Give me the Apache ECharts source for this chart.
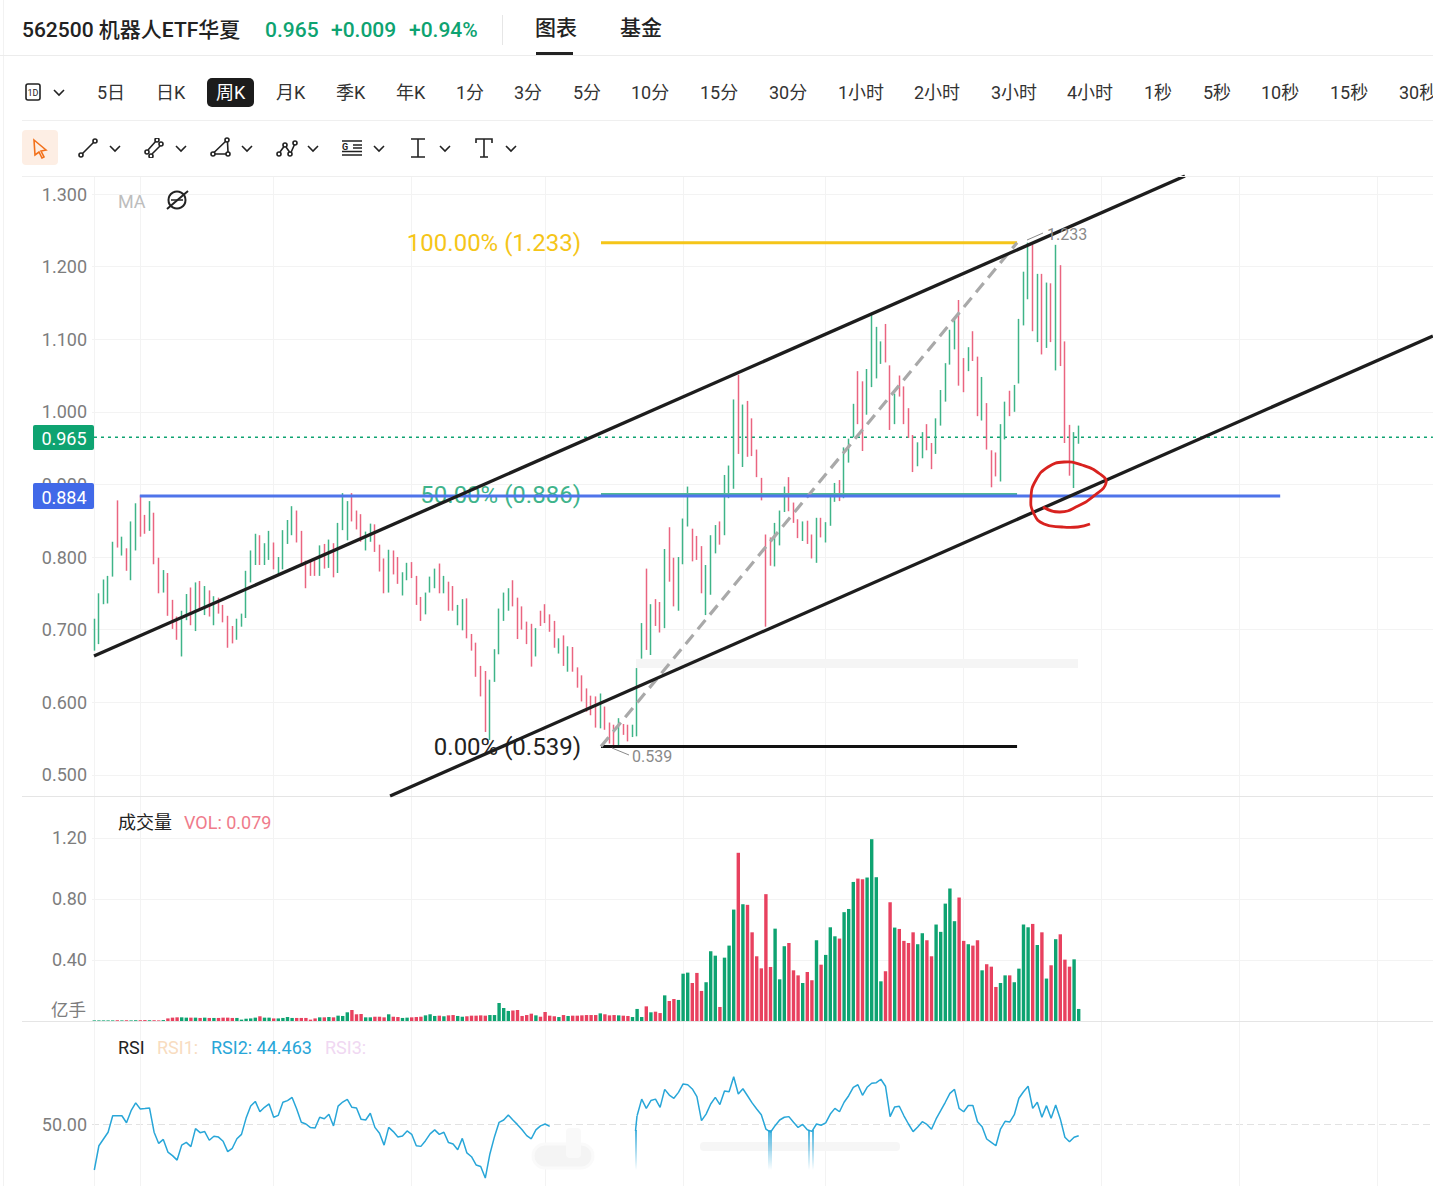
<!DOCTYPE html>
<html><head><meta charset="utf-8">
<script src="https://cdn.jsdelivr.net/npm/echarts@6/dist/echarts.min.js"></script>
<style>
html,body{margin:0;padding:0;background:#fff;overflow:hidden;width:1433px;height:1186px;font-family:Roboto,"Noto Sans CJK SC",sans-serif;color:#222}
#wrap{position:absolute;left:0;top:0;width:1433px;height:1186px;overflow:hidden}
#chart{position:absolute;left:0;top:0;width:1445px;height:1186px}
.t{position:absolute;white-space:nowrap;line-height:1;transform:translateY(-50%)}
svg.i{position:absolute;fill:none;stroke:#222;stroke-width:1.6}
</style></head><body>
<div id="wrap"><div id="chart"></div><div id="ui"></div></div>
<script>
// ---------- data ----------
const directions = ["GGGGGRGRGG","RRGRRGRRRG","GRGRGRGRRR","RGGGGGRGGR","GGGGRRRRRG","RGRGGGRRRG","GRRRGRRGGR","RRGGGRGRRG","GRRRRRGGGG","GRRRRRGRRR","RGRGRRRRRR","GRRRGRRGGG","RGRRGRRGGG","RRRGGGRGGG","RGRRRRRRGG","GRRRGRRGRG","GGRGGGRRGG","GGRRGRRRRG","GRRGGGGGRR","GRRGRRRGGR","GGGGRGRGRG","RRRGG"].join("").split("");
const highs = [
.715,.750,.769,.774,.821,.878,.828,.812,.849,.874,
.885,.858,.877,.861,.799,.782,.778,.741,.718,.726,
.749,.758,.765,.767,.760,.754,.746,.744,.734,.719,
.705,.715,.722,.781,.809,.832,.830,.819,.836,.820,
.800,.837,.851,.870,.864,.836,.795,.795,.795,.816,
.818,.824,.819,.847,.888,.877,.888,.864,.859,.835,
.846,.845,.817,.798,.810,.809,.800,.779,.792,.793,
.774,.745,.751,.773,.784,.791,.774,.766,.760,.734,
.742,.743,.694,.682,.650,.643,.631,.673,.729,.751,
.757,.768,.744,.732,.711,.708,.702,.726,.735,.721,
.712,.688,.692,.677,.676,.648,.637,.619,.609,.608,
.612,.594,.572,.569,.578,.570,.569,.569,.647,.709,
.784,.735,.742,.738,.811,.841,.799,.800,.853,.897,
.839,.829,.815,.789,.830,.844,.849,.913,.926,1.017,
1.051,1.010,1.015,.991,.948,.909,.831,.827,.847,.864,
.897,.910,.875,.852,.849,.850,.831,.854,.854,.848,
.883,.902,.906,.951,.963,1.011,1.056,1.042,1.059,1.134,
1.117,1.097,1.121,1.064,1.025,1.050,1.035,1.005,.968,.958,
.972,.983,.957,.991,1.030,1.067,1.113,1.127,1.154,1.074,
1.089,1.111,1.076,1.048,1.012,.947,.944,.983,1.014,1.029,
1.037,1.128,1.193,1.233,1.230,1.190,1.190,1.178,1.177,1.230,
1.202,1.097,.982,.972,.981];
const lows = [
.671,.680,.735,.736,.773,.813,.802,.781,.768,.809,
.828,.832,.836,.790,.750,.751,.719,.701,.686,.663,
.713,.706,.698,.727,.720,.718,.706,.722,.710,.675,
.681,.686,.704,.716,.765,.789,.789,.789,.796,.783,
.776,.783,.818,.830,.820,.790,.757,.774,.774,.774,
.784,.785,.772,.778,.837,.823,.849,.838,.821,.809,
.821,.807,.780,.750,.751,.776,.763,.747,.768,.771,
.734,.712,.721,.751,.757,.750,.750,.726,.726,.706,
.699,.688,.671,.635,.608,.559,.548,.628,.666,.712,
.726,.732,.687,.700,.680,.649,.663,.705,.709,.697,
.675,.667,.650,.642,.642,.620,.601,.587,.582,.565,
.564,.562,.543,.539,.539,.555,.546,.552,.553,.660,
.672,.665,.705,.696,.702,.766,.732,.726,.790,.842,
.794,.796,.750,.720,.748,.805,.817,.830,.881,.894,
.942,.924,.938,.939,.910,.878,.704,.788,.787,.816,
.862,.863,.847,.826,.822,.818,.798,.792,.827,.820,
.843,.876,.877,.881,.930,.965,.983,.946,.996,1.034,
1.046,1.066,1.068,.975,.983,1.021,.983,.964,.917,.925,
.936,.947,.921,.942,.981,1.014,1.065,1.086,1.036,1.027,
1.056,1.070,.994,.988,.948,.896,.911,.904,.962,.994,
1.000,1.039,1.119,1.155,1.111,1.096,1.079,1.088,1.096,1.057,
1.063,.957,.912,.895,.956];
const volumes = [
.004,.004,.004,.004,.004,.005,.004,.005,.004,.005,
.005,.006,.005,.005,.004,.006,.017,.022,.024,.024,
.022,.022,.022,.020,.022,.020,.020,.020,.022,.022,
.020,.020,.009,.015,.017,.022,.031,.022,.022,.017,
.017,.020,.026,.020,.020,.020,.020,.009,.017,.024,
.024,.026,.024,.035,.033,.057,.072,.044,.046,.024,
.024,.028,.028,.024,.044,.028,.026,.020,.022,.024,
.026,.028,.037,.044,.033,.035,.031,.037,.039,.033,
.028,.031,.035,.035,.037,.035,.039,.039,.118,.085,
.066,.068,.072,.033,.039,.048,.037,.028,.059,.035,
.031,.026,.039,.033,.035,.035,.037,.039,.039,.039,
.050,.044,.037,.039,.037,.035,.033,.026,.079,.026,
.096,.057,.061,.052,.168,.131,.144,.138,.310,.317,
.249,.315,.197,.254,.457,.428,.092,.415,.494,.730,
1.102,.765,.761,.581,.424,.345,.831,.354,.605,.273,
.490,.511,.332,.299,.249,.321,.267,.529,.369,.433,
.614,.555,.540,.713,.734,.911,.933,.929,.940,1.191,
.942,.260,.326,.778,.612,.603,.525,.511,.581,.503,
.575,.529,.424,.632,.584,.769,.868,.654,.809,.525,
.503,.494,.529,.332,.372,.356,.223,.249,.299,.299,
.254,.343,.632,.614,.636,.498,.581,.278,.365,.536,
.568,.402,.356,.404,.079];
const rsi2 = [
28.2,39.7,42.9,46.1,53.9,53.9,53.9,50.6,56.3,60.0,
57.1,57.3,57.6,46.1,40.8,42.7,36.7,35.0,32.9,40.0,
41.3,39.3,47.8,45.9,46.4,42.3,44.2,43.8,41.8,36.9,
38.5,43.0,45.1,52.8,58.5,60.7,55.8,57.9,59.5,53.2,
54.1,60.3,61.1,62.6,57.1,50.8,50.0,48.3,48.1,53.2,
52.5,54.6,49.1,58.5,60.4,61.7,57.9,57.6,52.2,51.9,
55.1,48.4,45.6,40.0,48.4,46.4,43.8,44.3,46.7,45.1,
39.7,39.4,42.1,45.3,47.2,45.1,46.1,41.2,40.5,37.8,
43.2,36.3,34.5,30.6,29.9,24.4,35.8,44.0,50.8,51.9,
54.3,51.9,49.7,47.3,44.5,43.0,47.2,49.1,50.0,48.9,
null,null,null,null,null,null,null,null,null,null,
null,null,null,null,null,null,null,null,53.9,61.8,
57.4,61.1,61.8,57.9,66.4,63.7,62.2,65.0,69.0,68.6,
66.6,63.0,51.6,54.7,59.5,62.6,59.2,65.6,65.3,72.4,
64.2,66.7,63.4,60.0,57.1,54.4,47.6,46.1,49.2,51.9,
53.2,53.5,50.8,48.4,49.8,47.3,46.5,50.0,49.4,50.5,
54.7,57.4,55.8,60.3,63.4,67.4,68.6,63.6,67.4,69.3,
69.6,71.2,67.9,53.5,58.1,58.4,53.9,50.0,46.4,48.6,
51.1,49.8,47.5,52.4,56.3,60.3,64.5,66.4,57.4,55.8,
58.8,58.8,51.1,48.7,42.9,41.3,39.7,47.6,51.3,50.9,
54.4,62.2,65.3,67.9,57.4,60.3,53.2,58.7,52.7,59.0,
52.4,43.7,41.6,43.7,44.463];
const priceTicks = [0.5,0.6,0.7,0.8,0.9,1.0,1.1,1.2,1.3];
const volumeTicks = [0.4,0.8,1.2];
const rsiTicks = [50];
const gridBars = [0,10,39,69,98,128,159,189,219,249,279];
// drawings: [bar position, price] end points
const upperChannel = [[0.43,0.6636],[237.6,1.3248]];
const lowerChannel = [[64.8,0.4708],[291.5,1.1044]];
const supportLine  = [[10.4,0.884],[258.3,0.884]];
const fibHigh = [[110.65,1.233],[201.1,1.233]];
const fibMid  = [[110.65,0.886],[201.1,0.886]];
const fibLow  = [[110.65,0.539],[201.1,0.539]];
const fibDiag = [[110.65,0.539],[201.1,1.233]];
const lastPriceLine = [[0.43,0.965],[291.5,0.965]];
const slots = 292;
const categories = Array.from({length:slots},(_,i)=>String(i));
// ---------- page chrome ----------
const GREEN='#0ea371',RED='#e8415f',BLUE='#4169e8',FONT='Roboto,"Noto Sans CJK SC",sans-serif';
const ui=document.getElementById('ui');
function T(txt,x,y,size,color,extra){const d=document.createElement('div');d.className='t';d.textContent=txt;d.style.cssText=`left:${x}px;top:${y}px;font-size:${size}px;color:${color};${extra||''}`;ui.appendChild(d);}
function B(x,y,w,h,c,r){const d=document.createElement('div');d.style.cssText=`position:absolute;left:${x}px;top:${y}px;width:${w}px;height:${h}px;background:${c};border-radius:${r||0}px`;ui.appendChild(d);}
function S(x,y,w,h,inner,extra){ui.insertAdjacentHTML('beforeend',`<svg class="i" style="left:${x}px;top:${y}px;${extra||''}" width="${w}" height="${h}" viewBox="0 0 ${w} ${h}">${inner}</svg>`);}
const chev='<path d="M1 1l5 5 5-5"/>';
B(3,0,1,1186,'#f2f2f2');
T('562500 机器人ETF华夏',22,30,21,'#222','font-weight:500');
T('0.965',265,30,21,GREEN,'font-weight:500');
T('+0.009',331,30,21,GREEN,'font-weight:500');
T('+0.94%',409,30,21,GREEN,'font-weight:500');
B(502,15,1,30,'#e6e6e6');
T('图表',535,28,21,'#222','font-weight:500');
T('基金',620,28,21,'#222','font-weight:500');
B(536,52,37,3,'#222');
B(0,55,1433,1,'#ececec');
B(22,120,1411,1,'#efefef');
B(22,176,1411,1,'#efefef');
const periods=[['5日',97],['日K',156],['周K',216],['月K',276],['季K',336],['年K',396],['1分',456],['3分',514],['5分',573],['10分',631],['15分',700],['30分',769],['1小时',838],['2小时',914],['3小时',991],['4小时',1067],['1秒',1144],['5秒',1203],['10秒',1261],['15秒',1330],['30秒',1399]];
B(207,78,47,29,'#1c1c1c',5);
periods.forEach(([s,x])=>T(s,x,93,18,s==='周K'?'#fff':'#333'));
S(25,83,17,18,'<rect x="1" y="1" width="14" height="16" rx="2"/><text x="8" y="13" font-size="9" text-anchor="middle" fill="#222" stroke="none" font-family="Roboto">1D</text>');
S(53,89,12,8,chev);
B(22,130,36,35,'#fdeee4',4);
S(32,138,17,21,'<path d="M2 2l12 10-5 1 3 6-2 1-3-6-4 3z" style="stroke:#f2711c;fill:none"/>');
S(78,138,20,20,'<circle cx="3" cy="17" r="2"/><circle cx="17" cy="3" r="2"/><path d="M4.5 15.5L15.5 4.5"/>');
S(144,138,20,20,'<circle cx="3" cy="14" r="2"/><circle cx="7" cy="18" r="2"/><circle cx="13" cy="2" r="2"/><circle cx="17" cy="6" r="2"/><path d="M4 12L12 3M8 16L16 8"/>');
S(210,137,22,20,'<circle cx="3" cy="17" r="2"/><circle cx="18" cy="17" r="2"/><circle cx="17" cy="3" r="2"/><path d="M5 17h11M4 15.5L16 4M17.5 5l.5 10"/>');
S(276,136,22,22,'<circle cx="3" cy="18" r="2"/><circle cx="9" cy="9" r="2"/><circle cx="14" cy="18" r="2"/><circle cx="19" cy="7" r="2"/><path d="M4 16l4-5.5M10 11l3.5 5M15 16.5l3.5-8"/>');
S(341,139,22,18,'<path d="M1 2h20M1 16h20M1 12.5h20M12 6h9M12 9h9"/><text x="1" y="10.5" font-size="9" font-weight="700" fill="#222" stroke="none" font-family="Roboto">G</text>');
S(410,138,16,20,'<path d="M1 1h14M1 19h14M8 1v18"/>');
S(475,138,18,20,'<path d="M1 5V1h16v4M9 1v18M5 19h8"/>');
[[109],[175],[241],[307],[373],[439],[505]].forEach(([x])=>S(x,145,12,8,chev));
// ---------- chart ----------
const x0=92, band=4.6, W=slots*band;
const ink='#1d1d1d';
const candle=highs.map((h,i)=>directions[i]==='G'?[lows[i],h,lows[i],h]:[h,lows[i],lows[i],h]);
const vols=volumes.map((v,i)=>({value:v,itemStyle:{color:directions[i]==='G'?GREEN:RED}}));
const gridPos=gridBars.map(v=>v+0.5);
const catAxis=g=>({type:'category',gridIndex:g,data:categories,show:false,boundaryGap:true});
const valAxis=g=>({type:'value',gridIndex:g,min:0,max:slots,axisLine:{show:false},axisLabel:{show:false},
  axisTick:{show:false,customValues:gridPos},splitLine:{show:true,lineStyle:{color:'#f3f3f3',width:1}}});
const yAxisCfg=(g,min,max,ticks,fmt)=>({type:'value',gridIndex:g,min,max,position:'left',axisLine:{show:false},
  axisTick:{show:false,customValues:ticks},
  axisLabel:{customValues:ticks,formatter:fmt,color:'#7d7d7d',fontSize:18,fontFamily:FONT,margin:5,showMinLabel:true,showMaxLabel:true},
  splitLine:{show:true,lineStyle:{color:'#f3f3f3',width:1}}});
const draw=(data,color,width,type,z)=>({type:'line',xAxisIndex:1,yAxisIndex:0,data,showSymbol:false,symbol:'none',silent:true,animation:false,z:z||5,
  lineStyle:{color,width,type:type||'solid',cap:'butt'}});
const txt=(text,x,y,fill,size,align,z,extra)=>({type:'text',z:z||100,silent:true,style:Object.assign({text,x,y,fill,font:`${size}px ${FONT}`,align:align||'left',verticalAlign:'middle'},extra||{})});
const chart=echarts.init(document.getElementById('chart'),null,{renderer:'svg',width:1445,height:1186});
chart.setOption({
  animation:false,
  backgroundColor:'#fff',
  grid:[
    {left:x0,top:176,width:W,height:620},
    {left:x0,top:797,width:W,height:224},
    {left:x0,top:1022,width:W,height:164}
  ],
  xAxis:[catAxis(0),valAxis(0),catAxis(1),valAxis(1),catAxis(2),valAxis(2)],
  yAxis:[
    yAxisCfg(0,0.4708,1.3248,priceTicks,v=>(+v).toFixed(3)),
    yAxisCfg(1,0,1.4675,volumeTicks,v=>(+v).toFixed(2)),
    Object.assign(yAxisCfg(2,20.62,98.34,rsiTicks,v=>(+v).toFixed(2)),{splitLine:{show:true,lineStyle:{color:'#e2e2e2',type:[7,4],width:1}}})
  ],
  series:[
    {type:'candlestick',xAxisIndex:0,yAxisIndex:0,data:candle,barWidth:1,silent:true,z:3,
      itemStyle:{color:'#3fb488',color0:'#ea6580',borderColor:'#3fb488',borderColor0:'#ea6580',borderWidth:1.5}},
    draw(lastPriceLine,GREEN,1.4,[3,4],2),
    draw(fibHigh,'#f5c518',3,'solid',4),
    draw(fibMid,'#4fb996',3,'solid',4),
    draw(fibLow,'#111',3,'solid',4),
    draw(fibDiag,'#a9a9a9',3.2,[12,7],4),
    draw(supportLine,'#4f74ea',3,'solid',5),
    draw(upperChannel,ink,3.3,'solid',6),
    draw(lowerChannel,ink,3.3,'solid',6),
    {type:'bar',xAxisIndex:2,yAxisIndex:1,data:vols,barWidth:3.4,silent:true},
    {type:'line',xAxisIndex:4,yAxisIndex:2,data:rsi2,connectNulls:false,symbol:'none',showSymbol:false,silent:true,lineStyle:{color:'#28a6d8',width:1.5}}
  ],
  graphic:[
    // section rules
    {type:'rect',z:1,silent:true,shape:{x:22,y:796,width:1423,height:1},style:{fill:'#e5e5e5'}},
    {type:'rect',z:1,silent:true,shape:{x:22,y:1021,width:1423,height:1},style:{fill:'#e5e5e5'}},
    // pale band and the watermark traces
    {type:'rect',z:1,silent:true,shape:{x:636,y:659,width:442,height:9},style:{fill:'#f5f5f5'}},
    {type:'rect',z:20,silent:true,shape:{x:533,y:1144,width:60,height:24,r:12},style:{fill:'#f4f4f4',stroke:'#fafafa',lineWidth:3}},
    {type:'rect',z:20,silent:true,shape:{x:566,y:1128,width:15,height:30,r:4},style:{fill:'#f9f9f9'}},
    {type:'rect',z:1,silent:true,shape:{x:700,y:1142,width:200,height:9,r:4},style:{fill:'#f6f6f6'}},
    ...[[635,2],[768,4],[808,2],[812,2]].map(([x,w])=>({type:'rect',z:20,silent:true,shape:{x,y:1130,width:w,height:40},
      style:{fill:new echarts.graphic.LinearGradient(0,0,0,1,[{offset:0,color:'rgba(40,166,216,.85)'},{offset:1,color:'rgba(40,166,216,0)'}])}})),
    {type:'polyline',z:20,silent:true,shape:{points:[[635.5,1131],[637,1116]]},style:{stroke:'#28a6d8',lineWidth:1.5}},
    // fibonacci labels
    txt('100.00% (1.233)',581,243,'#f5c518',24,'right',1),
    txt('50.00% (0.886)',581,495,'#3fb48c',24,'right',1),
    txt('0.00% (0.539)',581,747,'#222',24,'right',1),
    txt('1.233',1047,234,'#8a8a8a',16,'left',10),
    txt('0.539',632,756,'#8a8a8a',16,'left',10),
    {type:'polyline',z:10,silent:true,shape:{points:[[1027,240],[1043,233]]},style:{stroke:'#8a8a8a',lineWidth:1}},
    {type:'polyline',z:10,silent:true,shape:{points:[[612,748],[629,755]]},style:{stroke:'#8a8a8a',lineWidth:1}},
    // price badges
    {type:'rect',z:50,silent:true,shape:{x:33,y:425,width:61,height:25,r:2},style:{fill:GREEN}},
    txt('0.965',64,438,'#fff',18,'center',51),
    {type:'rect',z:50,silent:true,shape:{x:33,y:483,width:61,height:26,r:2},style:{fill:BLUE}},
    txt('0.884',64,497,'#fff',18,'center',51),
    // panel legends
    txt('MA',118,201,'#bdbdbd',18,'left'),
    {type:'circle',z:100,silent:true,shape:{cx:177,cy:200,r:8.5},style:{fill:'none',stroke:'#222',lineWidth:2}},
    {type:'line',z:100,silent:true,shape:{x1:167,y1:209,x2:188,y2:191},style:{stroke:'#222',lineWidth:2}},
    {type:'line',z:100,silent:true,shape:{x1:171,y1:200,x2:183,y2:200},style:{stroke:'#222',lineWidth:1.5}},
    txt('成交量',118,822,'#222',18,'left'),
    txt('VOL: 0.079',184,822,'#ef7b8b',18,'left'),
    txt('亿手',51,1010,'#7d7d7d',17.5,'left'),
    txt('RSI',118,1047,'#222',18,'left'),
    txt('RSI1:',157,1047,'#f8dcc0',18,'left'),
    txt('RSI2: 44.463',211,1047,'#28a6d8',18,'left'),
    txt('RSI3:',325,1047,'#f0d8f2',18,'left'),
    // hand-drawn red ring and stroke
    {type:'polyline',z:60,silent:true,shape:{smooth:0.5,points:[[1090,524],[1078,527],[1062,527],[1044,524],[1034,514],[1031,497],[1036,480],[1048,467],[1064,462],[1082,465],[1100,474],[1106,483],[1095,495],[1078,506],[1060,512],[1043,507]]},
      style:{stroke:'#d8221f',lineWidth:2.8,fill:'none'}}
  ]
});
</script>
</body></html>
